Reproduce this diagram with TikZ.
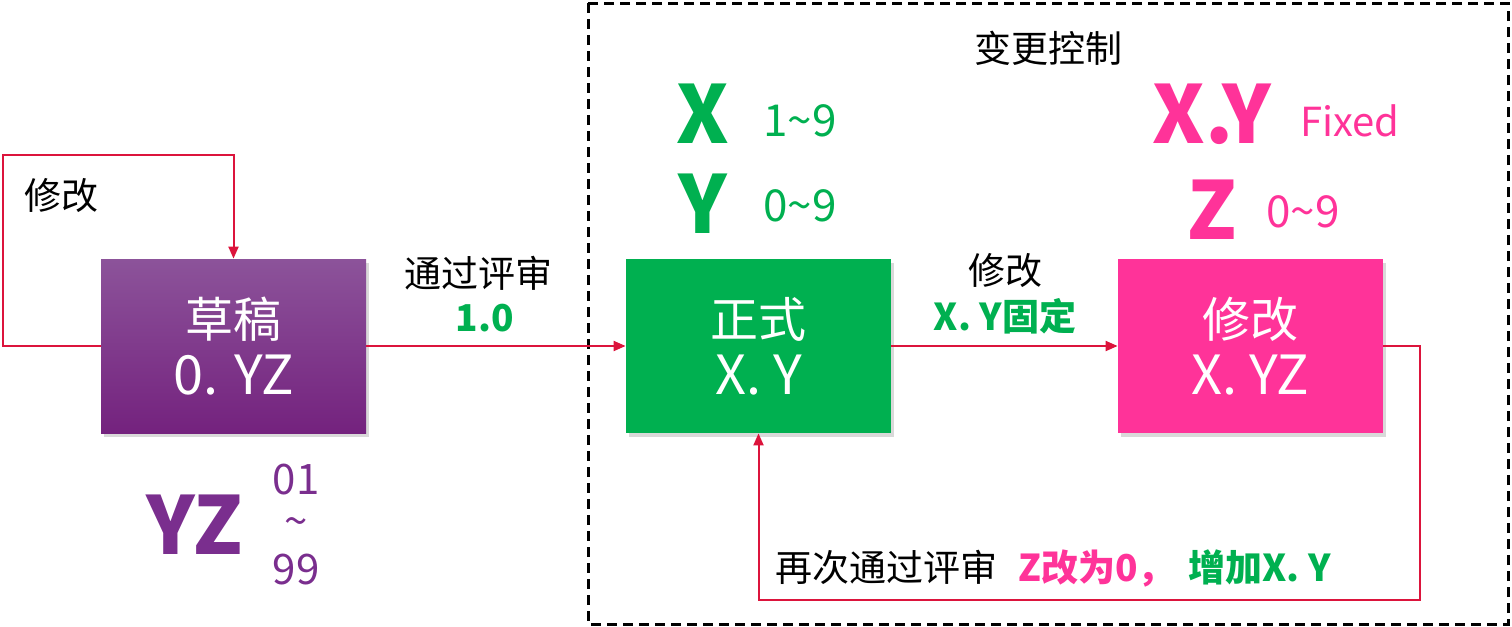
\documentclass[tikz,border=0pt]{standalone}
\usepackage{fontspec}
\setmainfont{Noto Sans CJK SC}
\usetikzlibrary{arrows.meta,shadows}
\definecolor{purpT}{HTML}{8C539A}
\definecolor{purpB}{HTML}{74227E}
\definecolor{purptxt}{HTML}{7A2E8E}
\definecolor{okgreen}{HTML}{00B050}
\definecolor{hotpink}{HTML}{FF3399}
\definecolor{linered}{HTML}{DC143C}
\begin{document}
\begin{tikzpicture}[x=0.5pt,y=-0.5pt,
  stagebox/.style={minimum width=132.5pt, minimum height=87pt, inner sep=0pt,
    text=white, align=center,
    drop shadow={shadow xshift=1.5pt, shadow yshift=-2pt, opacity=0.3},
    font=\fontsize{24}{28.5}\selectfont},
  lbl/.style={inner sep=0pt, font=\fontsize{18.5}{22}\selectfont},
  biglbl/.style={inner sep=0pt, font=\fontsize{40}{44}\bfseries\selectfont},
  rng/.style={inner sep=0pt, font=\fontsize{22}{26}\selectfont},
  conn/.style={draw=linered, line width=1pt, -{Triangle[length=6pt,width=5pt]}},
  frame/.style={draw=black, line width=1.5pt, dash pattern=on 5pt off 3pt}]
\useasboundingbox (0,0) rectangle (1512,627);

% dashed change-control frame
\draw[frame] (588,3) rectangle (1508,624);

% boxes
\node[stagebox, top color=purpT, bottom color=purpB] (draft) at (233.5,346)
  {草稿\\{\fontsize{27}{28.5}\selectfont 0. YZ}};
\node[stagebox, fill=okgreen] (formal) at (758.5,346)
  {正式\\{\fontsize{27}{28.5}\selectfont X. Y}};
\node[stagebox, fill=hotpink] (rev) at (1250.5,346)
  {修改\\{\fontsize{27}{28.5}\selectfont X. YZ}};

% connectors
\coordinate (loopA) at (3,155);
\coordinate (loopB) at (1420,600);
\draw[conn] (draft.west) -| (loopA) -| (draft.north);
\draw[conn] (draft.east) -- (formal.west);
\draw[conn] (formal.east) -- (rev.west);
\draw[conn] (rev.east) -| (loopB) -| (formal.south);

% labels
\node[lbl] (l1) at (62,195) {修改};
\node[lbl] (l2) at (478,273) {通过评审};
\node[lbl, text=okgreen, font=\fontsize{18.5}{22}\bfseries\selectfont] (l3) at (485,318) {1.0};
\node[lbl] (l4) at (1048,48) {变更控制};
\node[lbl] (l5) at (1005,270) {修改};
\node[lbl, text=okgreen, font=\fontsize{18.5}{22}\bfseries\selectfont] (l6) at (1005,316) {X. Y固定};

\node[biglbl, text=okgreen] (bx) at (703,114) {X};
\node[rng, text=okgreen] (rx) at (800,121) {1\char`~9};
\node[biglbl, text=okgreen] (by) at (703,204) {Y};
\node[rng, text=okgreen] (ry) at (800,206) {0\char`~9};

\node[biglbl, text=hotpink] (bxy) at (1212,114) {X.Y};
\node[rng, text=hotpink, font=\fontsize{20}{24}\selectfont] (fx) at (1350,121) {Fixed};
\node[biglbl, text=hotpink] (bz) at (1212,210) {Z};
\node[rng, text=hotpink] (rz) at (1303,212) {0\char`~9};

\node[biglbl, text=purptxt] (byz) at (195,525) {YZ};
\node[rng, text=purptxt, font=\fontsize{21}{24}\selectfont] (r1) at (296,480) {01};
\node[rng, text=purptxt, font=\fontsize{21}{24}\selectfont] (r2) at (296,527) {\char`~};
\node[rng, text=purptxt, font=\fontsize{21}{24}\selectfont] (r3) at (296,570) {99};

\node[lbl, anchor=base west] (b1) at (775,581) {再次通过评审};
\node[lbl, anchor=base west, text=hotpink, font=\fontsize{18.5}{22}\bfseries\selectfont] (b2) at (1018,581) {Z改为0，};
\node[lbl, anchor=base west, text=okgreen, font=\fontsize{18.5}{22}\bfseries\selectfont] (b3) at (1188,581) {增加X. Y};
\end{tikzpicture}
\end{document}
